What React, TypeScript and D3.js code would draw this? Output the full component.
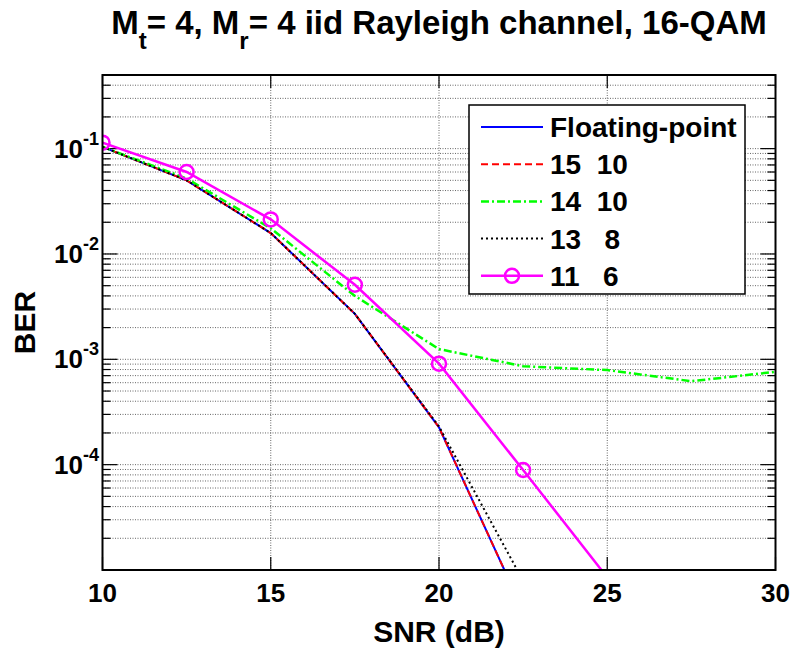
import { useEffect } from "react";
import * as d3 from "d3";

// SNR samples (dB) and BER per word-length setting
const snr = [10, 12.5, 15, 17.5, 20, 22.5, 25, 27.5, 30];
const floatingPoint = [0.104, 0.05, 0.0158, 0.0027, 2.26e-4, 4.1e-6];
const q15_10 = [0.104, 0.05, 0.0158, 0.0027, 2.26e-4, 4.1e-6];
const q14_10 = [0.104, 0.052, 0.0175, 0.004, 1.25e-3, 8.6e-4, 7.9e-4, 6.2e-4, 7.6e-4];
const q13_8 = [0.104, 0.05, 0.0158, 0.0027, 2.3e-4, 7.9e-6];
const q11_6 = [0.114, 0.06, 0.0213, 0.0051, 9.1e-4, 8.9e-5, 8.5e-6];

const xTicks = [10, 15, 20, 25, 30];
const yDecades = [-1, -2, -3, -4];

const W = 794;
const H = 652;
const left = 102.5, right = 775.5, top = 75, bottom = 570;
const FONT = "'Liberation Sans', Arial, sans-serif";

const series = [
  { name: "Floating-point", values: floatingPoint, color: "#0000ff", width: 2, dash: "" },
  { name: "15  10", values: q15_10, color: "#ff0000", width: 2, dash: "7,4" },
  { name: "14  10", values: q14_10, color: "#00ff00", width: 2.5, dash: "8,3,2,3" },
  { name: "13   8", values: q13_8, color: "#000000", width: 2, dash: "2,3" },
  { name: "11   6", values: q11_6, color: "#ff00ff", width: 2.5, dash: "", marker: true },
];

export default function App() {
  useEffect(() => {
    document.body.style.margin = "0";
  }, []);

  const x = d3.scaleLinear().domain([10, 30]).range([left, right]);
  const y = d3.scaleLog().domain([1e-5, 0.5]).range([bottom, top]);

  // minor log grid: 1..9 x each decade inside the domain
  const minor: number[] = [];
  for (let e = -5; e <= -1; e++) {
    for (let m = 1; m <= 9; m++) {
      const v = m * Math.pow(10, e);
      if (v >= 1e-5 && v <= 0.5) minor.push(v);
    }
  }
  const isDecade = (v: number) => Math.abs(Math.log10(v) - Math.round(Math.log10(v))) < 1e-9;

  const line = d3
    .line<number>()
    .x((d, i) => x(snr[i]))
    .y((d) => y(d));

  const legX = 469, legY = 105, legW = 276, legH = 189;
  const rowH = 37.2;

  return (
    <svg width={W} height={H} style={{ display: "block", background: "#fff" }} fontFamily={FONT}>
      <defs>
        <clipPath id="plot">
          <rect x={left} y={top} width={right - left} height={bottom - top} />
        </clipPath>
      </defs>
      <rect x={0} y={0} width={W} height={H} fill="#fff" />

      {/* grid */}
      <g stroke="#555" strokeWidth={0.9} strokeDasharray="1,1.5">
        {xTicks.slice(1, -1).map((t) => (
          <line key={"gx" + t} x1={x(t)} x2={x(t)} y1={top} y2={bottom} />
        ))}
        {minor.map((v) => (
          <line key={"gy" + v} x1={left} x2={right} y1={y(v)} y2={y(v)} />
        ))}
      </g>

      {/* ticks */}
      <g stroke="#000" strokeWidth={1.2}>
        {xTicks.map((t) => (
          <g key={"tx" + t}>
            <line x1={x(t)} x2={x(t)} y1={bottom} y2={bottom - 13} />
            <line x1={x(t)} x2={x(t)} y1={top} y2={top + 13} />
          </g>
        ))}
        {minor.map((v) => {
          const len = isDecade(v) ? 15 : 8;
          return (
            <g key={"ty" + v}>
              <line x1={left} x2={left + len} y1={y(v)} y2={y(v)} />
              <line x1={right} x2={right - len} y1={y(v)} y2={y(v)} />
            </g>
          );
        })}
      </g>

      {/* data */}
      <g clipPath="url(#plot)" fill="none">
        {series.map((s) => (
          <path
            key={s.name}
            d={line(s.values) || ""}
            stroke={s.color}
            strokeWidth={s.width}
            strokeDasharray={s.dash || undefined}
          />
        ))}
        {q11_6.map((v, i) =>
          v >= 1e-5 ? (
            <circle key={"m" + i} cx={x(snr[i])} cy={y(v)} r={7} stroke="#ff00ff" strokeWidth={2.5} fill="none" />
          ) : null
        )}
      </g>

      {/* axes box */}
      <rect x={left} y={top} width={right - left} height={bottom - top} fill="none" stroke="#000" strokeWidth={2} />

      {/* x tick labels */}
      <g fontSize={26} fontWeight="bold" textAnchor="middle">
        {xTicks.map((t) => (
          <text key={"lx" + t} x={x(t)} y={bottom + 32}>
            {t}
          </text>
        ))}
      </g>

      {/* y tick labels */}
      <g fontSize={26} fontWeight="bold" textAnchor="end">
        {yDecades.map((e) => (
          <text key={"ly" + e} x={99} y={y(Math.pow(10, e)) + 9}>
            10
            <tspan fontSize={18} dy={-13}>
              {e}
            </tspan>
          </text>
        ))}
      </g>

      {/* axis labels */}
      <text x={(left + right) / 2} y={642} fontSize={30} fontWeight="bold" textAnchor="middle">
        SNR (dB)
      </text>
      <text
        transform={`translate(35,${(top + bottom) / 2}) rotate(-90)`}
        fontSize={30}
        fontWeight="bold"
        textAnchor="middle"
      >
        BER
      </text>

      {/* title */}
      <text x={(left + right) / 2} y={34} fontSize={33} fontWeight="bold" textAnchor="middle">
        M<tspan fontSize={24} dy={15}>t</tspan>
        <tspan dy={-15}>= 4, M</tspan>
        <tspan fontSize={24} dy={15}>r</tspan>
        <tspan dy={-15}>= 4 iid Rayleigh channel, 16-QAM</tspan>
      </text>

      {/* legend */}
      <g>
        <rect x={legX} y={legY} width={legW} height={legH} fill="#fff" stroke="#000" strokeWidth={1.5} />
        {series.map((s, i) => {
          const cy = legY + 22 + i * rowH;
          return (
            <g key={"lg" + s.name}>
              <line
                x1={481}
                x2={543}
                y1={cy}
                y2={cy}
                stroke={s.color}
                strokeWidth={s.width}
                strokeDasharray={s.dash || undefined}
              />
              {s.marker ? (
                <circle cx={512} cy={cy} r={7} stroke={s.color} strokeWidth={2.5} fill="none" />
              ) : null}
              <text
                x={550}
                y={cy + 10}
                fontSize={28}
                fontWeight="bold"
                style={{ whiteSpace: "pre" }}
              >
                {s.name}
              </text>
            </g>
          );
        })}
      </g>
    </svg>
  );
}
